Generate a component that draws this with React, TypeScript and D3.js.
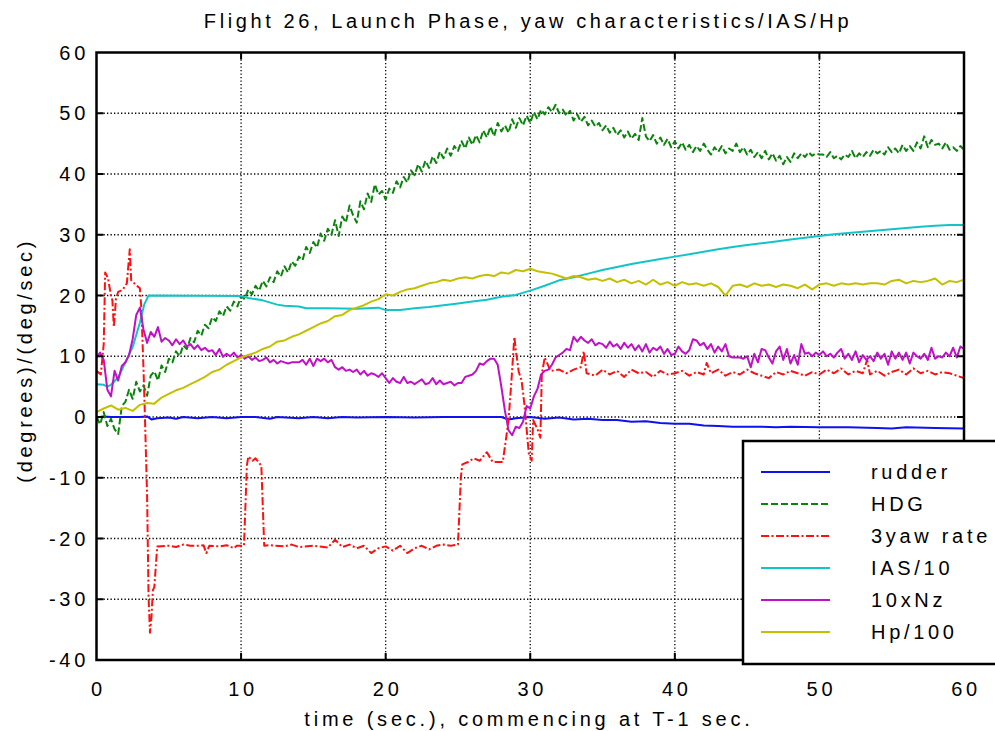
import React from "react";
import * as d3 from "d3";

const W = 995;
const H = 731;

const xTicks = [0, 10, 20, 30, 40, 50, 60];
const yTicks = [-40, -30, -20, -10, 0, 10, 20, 30, 40, 50, 60];

const legendNames = ["rudder", "HDG", "3yaw rate", "IAS/10", "10xNz", "Hp/100"];

// HDG, sampled every 0.25 s from t=0
const hdgStep = 0.25;
const hdgValues = [
  0, -1.2, 0.8, -1.5, -0.3,
  -2.0, -2.8, 1.8, 2.5,
  4.5, 3.0, 5.8, 4.2,
  5.2, 3.5, 6.8, 7.5,
  6.0, 8.5, 7.4, 9.6,
  9.0, 10.8, 10.0, 11.8,
  11.2, 13.0, 12.3, 14.2,
  13.4, 15.2, 14.6, 16.4,
  15.8, 17.4, 16.6, 18.2,
  17.5, 19.0, 18.2, 19.9,
  19.4, 21.0, 20.2, 21.6,
  20.8, 22.4, 21.5, 23.0,
  22.2, 24.0, 23.1, 24.8,
  23.8, 25.6, 24.9, 26.4,
  25.8, 28.0, 27.0, 28.8,
  27.9, 30.2, 29.0, 31.0,
  30.0, 32.4, 29.8, 33.0,
  32.0, 34.8, 33.2, 32.0,
  35.5, 34.2, 36.8, 35.4,
  38.3, 36.6, 37.2, 35.8,
  37.6, 36.9, 38.8, 37.8,
  39.5, 38.6, 40.6, 39.8,
  41.6, 40.4, 42.2, 41.0,
  42.9, 41.8, 43.7, 42.6,
  44.2, 43.0, 44.6, 43.8,
  45.4, 44.2, 46.0, 44.8,
  46.4, 45.2, 47.2, 46.0,
  47.8, 46.2, 48.4, 47.0,
  48.0, 46.8, 49.0, 47.6,
  49.2, 48.0, 49.6, 48.4,
  50.2, 49.0, 50.6, 49.8,
  51.0, 50.2, 51.4, 50.0,
  50.6, 49.6, 50.4, 48.8,
  49.8, 48.6, 49.4, 48.0,
  48.8, 47.8, 48.4, 47.2,
  48.0, 46.8, 47.6, 46.4,
  47.2, 46.0, 47.0, 45.8,
  46.6, 45.6, 49.2, 46.2,
  45.4, 46.4, 45.0, 46.0,
  44.8, 45.8, 44.4, 45.4,
  44.2, 45.2, 44.0, 44.8,
  43.6, 44.6, 43.8, 45.0,
  44.0, 43.2, 44.4, 43.6,
  44.6, 43.4, 44.2, 43.8,
  45.0, 43.6, 44.4, 43.2,
  44.0, 42.8, 43.6, 42.6,
  43.8, 42.4, 43.4, 42.2,
  43.0, 41.6, 42.8, 42.0,
  43.4, 42.6, 43.4, 42.8,
  43.6, 43.0, 43.4, 43.2,
  43.2, 42.8, 43.6, 42.6,
  43.0, 42.4, 43.2, 42.8,
  43.8, 42.6, 43.4, 42.8,
  43.6, 43.0, 44.0, 43.4,
  43.8, 43.2, 44.4, 43.6,
  44.2, 43.4, 44.8, 43.8,
  44.6, 43.8, 45.2, 44.2,
  46.2, 44.4, 45.6, 44.8,
  45.0, 44.2, 45.2, 44.0,
  44.4, 43.8, 44.6, 44.0,
];

// 10xNz, sampled every 0.25 s from t=0
const nzStep = 0.25;
const nzValues = [
  9.8, 10.6, 9.4, 4.5, 3.4,
  7.6, 6.0, 8.4, 9.0,
  10.2, 12.8, 16.8, 18.0,
  14.4, 12.2, 14.0, 13.2,
  14.8, 12.4, 13.0, 12.6,
  11.8, 12.8, 12.0, 12.6,
  11.6, 12.0, 11.2, 11.8,
  11.0, 11.4, 10.8, 11.0,
  10.2, 11.2, 9.9, 10.4,
  10.0, 10.6, 9.8, 10.2,
  9.6, 10.0, 9.4, 9.8,
  9.2, 9.4, 9.8, 9.0,
  9.4, 8.8, 9.2, 9.0,
  8.8, 9.0, 9.0, 9.0,
  9.4, 8.6, 9.6, 8.4,
  9.6, 9.2, 9.6, 9.0,
  9.4, 8.2, 7.8, 8.2,
  7.6, 7.8, 7.4, 7.8,
  7.0, 7.6, 6.8, 7.2,
  7.0, 6.6, 7.2, 6.4,
  5.6, 6.4, 5.8, 5.6,
  6.6, 5.6, 5.8, 5.4,
  5.8, 6.2, 5.4, 5.6,
  6.4, 5.4, 6.0, 5.4,
  5.6, 5.8, 5.2, 5.6,
  5.6, 6.6, 6.8, 7.0,
  7.6, 8.8, 8.6, 9.2,
  9.6, 9.6, 8.6, 5.0,
  1.0, -2.2, -3.0, -1.6,
  -1.8, -0.8, 1.8, 1.4,
  3.4, 4.6, 7.0, 7.6,
  7.8, 8.6, 9.8, 10.2,
  10.6, 11.2, 11.0, 13.2,
  12.4, 13.2, 12.6, 12.2,
  12.8, 11.8, 12.2, 12.0,
  11.4, 12.4, 11.6, 12.0,
  11.2, 12.2, 11.4, 12.0,
  11.0, 11.8, 10.8, 12.0,
  10.6, 11.4, 11.0, 11.6,
  10.4, 11.2, 10.2, 10.4,
  11.6, 10.8, 10.4, 11.0,
  12.8, 12.6, 11.8, 12.2,
  11.2, 12.0, 10.6, 11.6,
  10.8, 12.0, 10.0, 9.8,
  9.8, 9.8, 9.6, 10.0,
  8.2, 10.4, 9.0, 11.2,
  11.0, 9.8, 8.8, 10.8,
  11.6, 9.4, 11.2, 8.8,
  10.2, 8.6, 12.0, 10.4,
  10.6, 10.0, 10.6, 10.2,
  10.8, 10.0, 10.4, 9.8,
  10.6, 11.2, 9.6, 10.4,
  9.4, 10.8, 9.0, 10.2,
  9.4, 10.0, 9.2, 10.6,
  9.6, 10.4, 8.6, 10.8,
  9.6, 10.6, 9.4, 10.6,
  8.8, 10.6, 10.0, 9.6,
  10.4, 9.4, 11.4, 9.6,
  10.0, 9.8, 10.6, 10.0,
  11.4, 9.8, 11.6, 11.2,
];

// Hp/100, sampled every 0.5 s from t=0
const hpStep = 0.5;
const hpValues = [
  0.8, 1.4, 1.9, 1.2, 1.5, 1.0, 2.0, 2.3, 2.2, 3.2,
  3.8, 4.4, 4.8, 5.4, 6.0, 6.6, 7.4, 7.8, 8.6, 9.2,
  9.8, 10.2, 10.6, 11.2, 11.6, 12.4, 12.6, 13.2, 13.6, 14.2,
  14.8, 15.4, 15.8, 16.6, 16.8, 17.6, 18.0, 18.4, 19.0, 19.4,
  20.2, 20.0, 20.6, 21.0, 21.2, 21.6, 22.0, 22.2, 22.6, 22.4,
  22.8, 23.0, 22.8, 23.2, 23.4, 23.2, 23.8, 23.6, 24.2, 24.0,
  24.4, 24.0, 23.8, 23.6, 23.2, 22.8, 23.2, 23.0, 22.6, 22.8,
  22.4, 22.8, 22.2, 22.6, 22.0, 22.4, 21.8, 22.6, 21.8, 22.2,
  21.6, 22.2, 21.8, 22.0, 21.6, 22.0, 21.4, 20.0, 21.6, 21.8,
  21.4, 22.0, 21.6, 21.8, 21.4, 21.8, 21.6, 21.2, 21.8, 21.0,
  21.8, 22.0, 21.6, 22.0, 21.8, 22.0, 21.8, 22.0, 22.0, 21.8,
  22.4, 22.6, 22.0, 22.4, 22.2, 22.4, 22.8, 21.8, 22.4, 22.2,
  22.6,
];

// IAS/10 as [time, value]
const iasPoints: [number, number][] = [
  [0, 5.4], [0.5, 5.3], [0.75, 5.0], [1.0, 5.3], [1.5, 6.5], [2.0, 9.0], [2.5, 11.5],
  [3.0, 15.5], [3.3, 18.5], [3.6, 20.0], [10, 19.9], [10.5, 19.6], [11.5, 19.2],
  [12.5, 18.5], [13, 18.3], [14, 18.2], [14.5, 17.9], [16, 17.9], [18, 17.8],
  [19.5, 18.0], [20, 17.6], [21, 17.6], [22, 17.9], [23, 18.1], [24, 18.4], [25, 18.7],
  [26, 19.0], [27, 19.3], [28, 19.8], [29, 20.1], [30, 20.8], [31, 21.6], [32, 22.5],
  [33, 23.0], [34, 23.6], [35, 24.2], [36, 24.7], [37, 25.2], [38, 25.6], [39, 26.0],
  [40, 26.4], [41, 26.8], [42, 27.2], [43, 27.6], [44, 28.0], [45, 28.3], [46, 28.6],
  [47, 28.9], [48, 29.2], [49, 29.5], [50, 29.8], [51, 30.1], [52, 30.3], [53, 30.5],
  [54, 30.7], [55, 30.9], [56, 31.1], [57, 31.3], [58, 31.5], [59, 31.6], [60, 31.6],
];

// rudder as [time, value]
const rudderPoints: [number, number][] = [
  [0, -0.1], [0.5, 0.1], [1, 0], [2, 0], [3, 0], [3.5, 0.1], [3.8, -0.4], [4.2, -0.2],
  [5, -0.1], [5.5, -0.3], [6, 0], [7, -0.2], [8, 0], [9, -0.2], [10, 0], [11, 0],
  [12, -0.3], [12.5, 0], [14, -0.2], [15, 0], [16, -0.2], [17, 0], [18, -0.1], [20, 0],
  [22, -0.1], [24, 0], [26, 0], [28, 0], [28.5, -0.4], [29, -0.2], [30, 0], [31, -0.3],
  [32, -0.1], [33, -0.4], [34, -0.3], [35, -0.5], [36, -0.5], [37, -0.8], [38, -0.7],
  [39, -1.0], [40, -1.1], [41, -1.1], [42, -1.4], [43, -1.5], [44, -1.6], [46, -1.6],
  [47, -1.7], [48, -1.6], [50, -1.7], [52, -1.7], [54, -1.8], [55, -1.9], [56, -1.7],
  [58, -1.8], [60, -1.9],
];

// 3 x yaw rate as [time, value]
const yawPoints: [number, number][] = [
  [0, 7.6], [0.3, 7.0], [0.5, 12], [0.6, 23.8], [0.8, 22.8], [1.0, 20], [1.1, 19.2],
  [1.2, 14.8], [1.35, 19.5], [1.5, 20.6], [1.8, 20.9], [2.1, 22], [2.3, 27.6], [2.4, 22.5],
  [2.7, 21.8], [3.0, 21.2], [3.1, 18], [3.25, 8], [3.35, 0], [3.5, -13], [3.6, -29.6],
  [3.7, -35.5], [3.8, -33], [3.9, -28.5], [4.0, -28], [4.2, -21.3], [5, -21.2],
  [5.5, -21.4], [6, -21.0], [6.5, -21.2], [7, -21.2], [7.4, -21.1], [7.6, -22.4],
  [7.8, -21.2], [8.5, -21.3], [9, -21.1], [9.5, -21.6], [9.7, -21.2], [10.2, -21.2],
  [10.4, -8], [10.5, -6.5], [10.8, -7.2], [11.0, -6.8], [11.2, -7.4], [11.4, -8],
  [11.6, -21.2], [12, -21.1], [13, -21.3], [13.5, -21.0], [14, -21.4], [15, -21.2],
  [16, -21.5], [16.5, -20.2], [17, -21.4], [17.5, -21.0], [18, -21.6], [18.5, -21.2],
  [19, -22.4], [19.5, -21.6], [20, -21.3], [20.5, -22.0], [21, -21.2], [21.5, -22.4],
  [22, -21.6], [22.5, -21.2], [23, -21.8], [23.5, -21.2], [24, -21.0], [24.5, -21.2],
  [25, -21.0], [25.2, -10], [25.3, -7.8], [25.7, -7.4], [26.1, -6.8], [26.5, -7.2],
  [27, -5.8], [27.4, -7.4], [28.1, -7.4], [28.3, -4], [28.5, -0.5], [28.7, 6],
  [28.9, 13.2], [29.0, 11], [29.2, 7.5], [29.4, 6], [29.6, 2], [29.9, -6], [30.1, -7.2],
  [30.2, -0.5], [30.5, -2], [30.7, -3.4], [30.8, 7], [31, 9.8], [31.4, 7.6], [32, 7.8],
  [32.5, 7.2], [33, 7.8], [33.5, 8.2], [33.7, 10.8], [33.9, 7.2], [34.5, 6.8], [35, 7.8],
  [35.5, 7.0], [36, 7.6], [36.5, 6.6], [37, 7.8], [37.5, 7.2], [38, 7.4], [38.5, 6.6],
  [39, 7.6], [39.5, 7.0], [40, 7.2], [40.5, 7.6], [41, 6.8], [41.5, 7.4], [42, 7.0],
  [42.2, 8.9], [42.5, 7.2], [43, 7.8], [43.5, 6.8], [44, 7.4], [44.5, 7.0], [45, 7.8],
  [45.5, 7.2], [46, 6.8], [46.5, 6.4], [47, 7.4], [47.5, 7.0], [48, 7.6], [48.5, 7.2],
  [49, 6.8], [49.5, 7.4], [50, 7.0], [50.5, 7.8], [51, 7.2], [51.5, 8.0], [52, 7.0],
  [52.5, 7.6], [53, 7.2], [53.3, 9.4], [53.5, 7.0], [54, 7.6], [54.5, 6.8], [55, 7.4],
  [55.5, 7.8], [56, 7.0], [56.5, 8.0], [57, 7.2], [57.5, 7.6], [58, 7.0], [58.5, 7.4],
  [59, 7.2], [59.5, 6.8], [60, 6.4],
];

const toPairs = (vals: number[], step: number): [number, number][] =>
  vals.map((v, i) => [i * step, v]);

const FONT = "'Liberation Sans', Arial, Helvetica, sans-serif";
const FS = 20;
const LS = "3.7px";

export default function App() {
  const left = 96.5;
  const right = 964;
  const top = 52.5;
  const bottom = 660;
  const x = d3.scaleLinear().domain([0, 60]).range([left, right]);
  const y = d3.scaleLinear().domain([-40, 60]).range([bottom, top]);
  const line = d3
    .line<[number, number]>()
    .x((d) => x(d[0]))
    .y((d) => y(d[1]));

  const series = [
    { name: "rudder", data: rudderPoints, color: "#1010f0", dash: "" },
    { name: "HDG", data: toPairs(hdgValues, hdgStep), color: "#0a840a", dash: "7,3" },
    { name: "3yaw rate", data: yawPoints, color: "#ff1010", dash: "8,2.5,2,2.5" },
    { name: "IAS/10", data: iasPoints, color: "#12c4c8", dash: "" },
    { name: "10xNz", data: toPairs(nzValues, nzStep), color: "#c010c8", dash: "" },
    { name: "Hp/100", data: toPairs(hpValues, hpStep), color: "#c4c000", dash: "" },
  ];

  const legX = 743;
  const legY = 441;
  const rowY = (i: number) => 472 + i * 32;

  return (
    <svg
      width={W}
      height={H}
      style={{ position: "absolute", left: 0, top: 0, background: "#fff" }}
      fontFamily={FONT}
    >
      <rect x={0} y={0} width={W} height={H} fill="#fff" />
      <defs>
        <clipPath id="plotclip">
          <rect x={left} y={top} width={right - left} height={bottom - top} />
        </clipPath>
      </defs>

      {/* grid */}
      <g stroke="#000" strokeWidth={1.3} strokeDasharray="1.3,2.2">
        {xTicks.slice(1, -1).map((t) => (
          <line key={"gx" + t} x1={x(t)} x2={x(t)} y1={top} y2={bottom} />
        ))}
        {yTicks.slice(1, -1).map((t) => (
          <line key={"gy" + t} x1={left} x2={right} y1={y(t)} y2={y(t)} />
        ))}
      </g>

      {/* series */}
      <g clipPath="url(#plotclip)" fill="none" strokeLinejoin="round">
        {series.map((s) => (
          <path
            key={s.name}
            d={line(s.data) || ""}
            stroke={s.color}
            strokeWidth={2}
            strokeDasharray={s.dash || undefined}
          />
        ))}
      </g>

      {/* ticks */}
      <g stroke="#000" strokeWidth={2}>
        {xTicks.slice(1, -1).map((t) => (
          <g key={"tx" + t}>
            <line x1={x(t)} x2={x(t)} y1={bottom} y2={bottom - 7} />
            <line x1={x(t)} x2={x(t)} y1={top} y2={top + 7} />
          </g>
        ))}
        {yTicks.slice(1, -1).map((t) => (
          <g key={"ty" + t}>
            <line x1={left} x2={left + 7} y1={y(t)} y2={y(t)} />
            <line x1={right} x2={right - 7} y1={y(t)} y2={y(t)} />
          </g>
        ))}
      </g>

      {/* frame */}
      <rect
        x={left}
        y={top}
        width={right - left}
        height={bottom - top}
        fill="none"
        stroke="#000"
        strokeWidth={2.5}
      />

      {/* tick labels */}
      <g fontSize={FS} fill="#000" style={{ letterSpacing: LS }}>
        {yTicks.map((t) => (
          <text key={"ly" + t} x={89} y={y(t) + 7} textAnchor="end">
            {t}
          </text>
        ))}
        {xTicks.map((t) => (
          <text key={"lx" + t} x={x(t) + 2} y={696} textAnchor="middle">
            {t}
          </text>
        ))}
      </g>

      {/* titles */}
      <text
        x={528}
        y={28}
        textAnchor="middle"
        fontSize={FS}
        style={{ letterSpacing: "3.6px" }}
      >
        Flight 26, Launch Phase, yaw characteristics/IAS/Hp
      </text>
      <text
        x={529}
        y={726}
        textAnchor="middle"
        fontSize={FS}
        style={{ letterSpacing: "3.8px" }}
      >
        time (sec.), commencing at T-1 sec.
      </text>
      <text
        transform={`translate(32,${(top + bottom) / 2 + 4}) rotate(-90)`}
        textAnchor="middle"
        fontSize={FS}
        style={{ letterSpacing: LS }}
      >
        (degrees)/(deg/sec)
      </text>

      {/* legend */}
      <rect
        x={legX}
        y={legY}
        width={300}
        height={223}
        fill="#fff"
        stroke="#000"
        strokeWidth={2.5}
      />
      {series.map((s, i) => (
        <g key={"leg" + s.name}>
          <line
            x1={761}
            x2={830}
            y1={rowY(i)}
            y2={rowY(i)}
            stroke={s.color}
            strokeWidth={2}
            strokeDasharray={s.dash || undefined}
          />
          <text
            x={871}
            y={rowY(i) + 7}
            fontSize={FS}
            style={{ letterSpacing: LS }}
          >
            {legendNames[i]}
          </text>
        </g>
      ))}
    </svg>
  );
}
